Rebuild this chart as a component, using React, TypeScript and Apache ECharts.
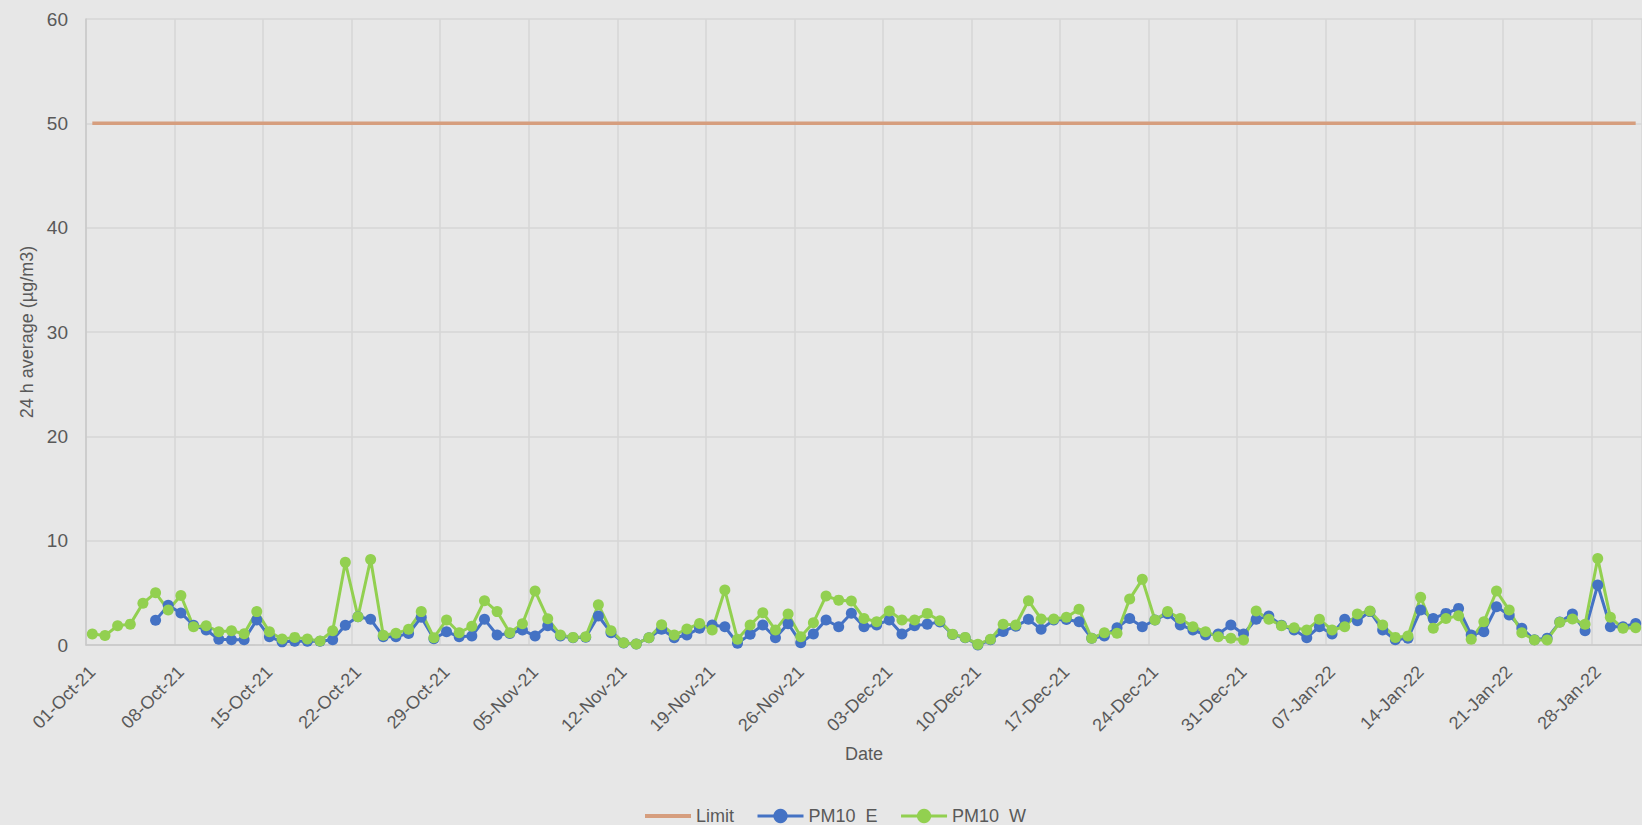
import React, { useEffect, useRef } from "react";
import * as echarts from "echarts";

// Daily dates 01-Oct-21 .. 31-Jan-22 (123 days)
const START_DATE = "2021-10-01";
const DAY_COUNT = 123;
const MONTHS = ["Jan", "Feb", "Mar", "Apr", "May", "Jun", "Jul", "Aug", "Sep", "Oct", "Nov", "Dec"];

const LIMIT = 50;

// PM10_E (east), 24 h average µg/m3
const pm10E: (number | null)[] = [
  null, null, null, null, null, 2.37, 3.8, 3.07, 1.9, 1.44,
  0.55, 0.5, 0.5, 2.4, 0.8, 0.3, 0.35, 0.35, 0.35, 0.5,
  1.9, 2.7, 2.46, 0.8, 0.8, 1.1, 2.65, 0.6, 1.27, 0.8,
  0.86, 2.46, 0.96, 1.1, 1.44, 0.86, 1.85, 0.86, 0.7, 0.75,
  2.78, 1.18, 0.2, 0.1, 0.7, 1.5, 0.7, 0.96, 1.6, 1.92,
  1.75, 0.16, 1.02, 1.92, 0.7, 2.04, 0.22, 1.05, 2.4, 1.75,
  3.05, 1.75, 1.92, 2.4, 1.05, 1.85, 2.0, 2.2, 1.0, 0.7,
  0.0, 0.5, 1.3, 1.8, 2.46, 1.5, 2.4, 2.45, 2.23, 0.64,
  0.86, 1.66, 2.55, 1.75, 2.4, 3.0, 1.92, 1.44, 0.96, 1.05,
  1.92, 1.05, 2.46, 2.78, 1.9, 1.44, 0.7, 1.75, 1.05, 2.46,
  2.33, 3.2, 1.44, 0.5, 0.64, 3.35, 2.55, 3.03, 3.51, 0.96,
  1.27, 3.67, 2.87, 1.6, 0.5, 0.64, 2.2, 2.97, 1.37, 5.75,
  1.75, 1.75, 2.07,
];

// PM10_W (west), 24 h average µg/m3
const pm10W: number[] = [
  1.05, 0.9, 1.85, 2.0, 4.0, 5.0, 3.35, 4.75, 1.75, 1.85,
  1.27, 1.37, 1.08, 3.2, 1.27, 0.58, 0.73, 0.57, 0.38, 1.37,
  7.92, 2.71, 8.2, 0.93, 1.12, 1.5, 3.2, 0.7, 2.4, 1.18,
  1.8, 4.25, 3.2, 1.18, 2.04, 5.17, 2.52, 0.96, 0.73, 0.8,
  3.86, 1.37, 0.22, 0.1, 0.7, 1.95, 0.96, 1.53, 2.07, 1.44,
  5.27, 0.55, 1.92, 3.1, 1.44, 2.97, 0.8, 2.14, 4.7, 4.3,
  4.22, 2.55, 2.23, 3.26, 2.4, 2.4, 3.03, 2.33, 1.02, 0.73,
  0.06, 0.55, 1.98, 1.92, 4.25, 2.5, 2.49, 2.65, 3.42, 0.64,
  1.18, 1.12, 4.4, 6.29, 2.4, 3.2, 2.55, 1.75, 1.27, 0.8,
  0.64, 0.48, 3.26, 2.46, 1.85, 1.66, 1.44, 2.46, 1.44, 1.75,
  2.97, 3.26, 1.92, 0.73, 0.86, 4.58, 1.6, 2.55, 2.81, 0.55,
  2.23, 5.17, 3.35, 1.18, 0.48, 0.48, 2.17, 2.49, 1.98, 8.3,
  2.65, 1.6, 1.66,
];

function buildDates(): string[] {
  const out: string[] = [];
  const d = new Date(START_DATE + "T00:00:00Z");
  for (let i = 0; i < DAY_COUNT; i++) {
    const dd = String(d.getUTCDate()).padStart(2, "0");
    const mm = MONTHS[d.getUTCMonth()];
    const yy = String(d.getUTCFullYear() % 100).padStart(2, "0");
    out.push(`${dd}-${mm}-${yy}`);
    d.setUTCDate(d.getUTCDate() + 1);
  }
  return out;
}

const dates = buildDates();
const limitValues = dates.map(() => LIMIT);

const TEXT = "#595959";
const FONT = "Liberation Sans";

export default function App() {
  const ref = useRef<HTMLDivElement>(null);
  useEffect(() => {
    if (!ref.current) return;
    const chart = echarts.init(ref.current, null, { renderer: "svg" });
    chart.setOption({
      animation: false,
      backgroundColor: "#E7E7E7",
      textStyle: { fontFamily: FONT },
      grid: { left: 86, right: 0, top: 19, bottom: 180, containLabel: false },
      legend: {
        left: 640,
        top: 802,
        itemWidth: 46,
        itemHeight: 18,
        itemGap: 22,
        lineStyle: { width: 3 },
        textStyle: { color: TEXT, fontSize: 18, fontFamily: FONT },
        data: [
          { name: "Limit", icon: "path://M0,0 L46,0 L46,4 L0,4 Z" },
          "PM10_E",
          "PM10_W",
        ],
      },
      xAxis: {
        type: "category",
        data: dates,
        boundaryGap: true,
        name: "Date",
        nameLocation: "middle",
        nameGap: 100,
        nameTextStyle: { color: TEXT, fontSize: 18, fontFamily: FONT },
        axisLine: { show: true, lineStyle: { color: "#C8C8C8", width: 1.5 } },
        axisTick: { show: false },
        axisLabel: {
          interval: 6,
          rotate: 45,
          color: TEXT,
          fontSize: 18,
          fontFamily: FONT,
          margin: 24,
        },
        splitLine: { show: true, interval: 6, lineStyle: { color: "#D6D6D6", width: 1.5 } },
      },
      yAxis: {
        type: "value",
        min: 0,
        max: 60,
        interval: 10,
        name: "24 h average (µg/m3)",
        nameLocation: "middle",
        nameGap: 50,
        nameTextStyle: { color: TEXT, fontSize: 18, fontFamily: FONT },
        axisLine: { show: true, lineStyle: { color: "#C8C8C8", width: 1.5 } },
        axisTick: { show: false },
        axisLabel: { color: TEXT, fontSize: 19, fontFamily: FONT, margin: 18 },
        splitLine: { show: true, lineStyle: { color: "#D6D6D6", width: 1.5 } },
      },
      series: [
        {
          name: "Limit",
          type: "line",
          data: limitValues,
          symbol: "none",
          lineStyle: { color: "#D69E7E", width: 3.5 },
          itemStyle: { color: "#D69E7E" },
        },
        {
          name: "PM10_E",
          type: "line",
          data: pm10E,
          symbol: "circle",
          symbolSize: 11,
          showSymbol: true,
          showAllSymbol: true,
          connectNulls: false,
          lineStyle: { color: "#4472C4", width: 3 },
          itemStyle: { color: "#4472C4" },
        },
        {
          name: "PM10_W",
          type: "line",
          data: pm10W,
          symbol: "circle",
          symbolSize: 11,
          showSymbol: true,
          showAllSymbol: true,
          lineStyle: { color: "#92D050", width: 3 },
          itemStyle: { color: "#92D050" },
        },
      ],
    });
    return () => chart.dispose();
  }, []);
  return (
    <div
      ref={ref}
      style={{ position: "absolute", left: 0, top: 0, width: 1642, height: 825 }}
    />
  );
}
